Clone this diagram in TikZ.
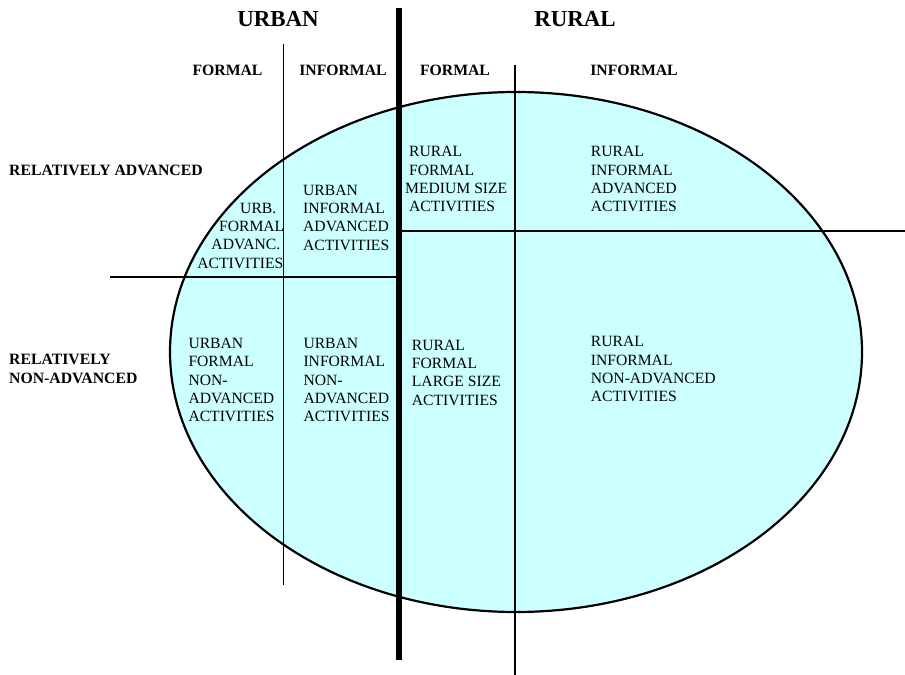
\documentclass[tikz,border=0pt]{standalone}
\usepackage{fontspec}
\setmainfont{Liberation Serif}
\definecolor{ovalfill}{HTML}{CCFFFF}
\begin{document}
\begin{tikzpicture}[x=1bp,y=-1bp,
	big/.style={font=\fontsize{23}{26}\selectfont\bfseries, inner sep=0pt, anchor=base},
	head/.style={font=\fontsize{15.8}{18.4}\selectfont\bfseries, inner sep=0pt},
	cell/.style={font=\fontsize{15.7}{18.4}\selectfont, inner sep=0pt, align=left, anchor=base west},
	thin/.style={line width=1.6bp}]
	\useasboundingbox (0,0) rectangle (905,675);
	% the oval
	\fill [ovalfill] (516,352) ellipse [x radius=346, y radius=260];
	% grid lines
	\draw [thin] (283.5,44) -- (283.5,585);
	\draw [thin] (515,65) -- (515,675);
	\draw [thin] (110,277) -- (399,277);
	\draw [thin] (399,231) -- (905,231);
	\draw [line width=2.2bp] (516,352) ellipse [x radius=346, y radius=260];
	\draw [line width=6bp] (399,8) -- (399,660);
	% column heads
	\node [big] (urban) at (278,27) {URBAN};
	\node [big] (rural) at (575,27) {RURAL};
	\node [head, anchor=base] (uform) at (227.5,75.7) {FORMAL};
	\node [head, anchor=base] (uinf) at (343,75.7) {INFORMAL};
	\node [head, anchor=base] (rform) at (455,75.7) {FORMAL};
	\node [head, anchor=base] (rinf) at (634,75.7) {INFORMAL};
	% row heads (base = last line)
	\node [head, anchor=base west] (adv) at (9,176) {RELATIVELY ADVANCED};
	\node [head, anchor=base west, align=left] (nonadv) at (9,383.3) {RELATIVELY\\NON-ADVANCED};
	% upper cells
	\node [cell, align=right, anchor=base east] (ufa) at (284.5,268) {URB.\kern8bp\\FORMAL\\ADVANC.\kern4bp\\ACTIVITIES\kern1bp};
	\node [cell] (uia) at (303,250) {URBAN\\INFORMAL\\ADVANCED\\ACTIVITIES};
	\node [cell] (rfm) at (405,211.7) {\ RURAL\\\ FORMAL\\MEDIUM SIZE\\\ ACTIVITIES};
	\node [cell] (ria) at (590.7,211.7) {RURAL\\INFORMAL\\ADVANCED\\ACTIVITIES};
	% lower cells
	\node [cell] (ufn) at (188.3,421.7) {URBAN\\FORMAL\\NON-\\ADVANCED\\ACTIVITIES};
	\node [cell] (uin) at (303.3,421.7) {URBAN\\INFORMAL\\NON-\\ADVANCED\\ACTIVITIES};
	\node [cell] (rfl) at (411.7,405) {RURAL\\FORMAL\\LARGE SIZE\\ACTIVITIES};
	\node [cell] (rin) at (590.7,401.7) {RURAL\\INFORMAL\\NON-ADVANCED\\ACTIVITIES};
\end{tikzpicture}
\end{document}
